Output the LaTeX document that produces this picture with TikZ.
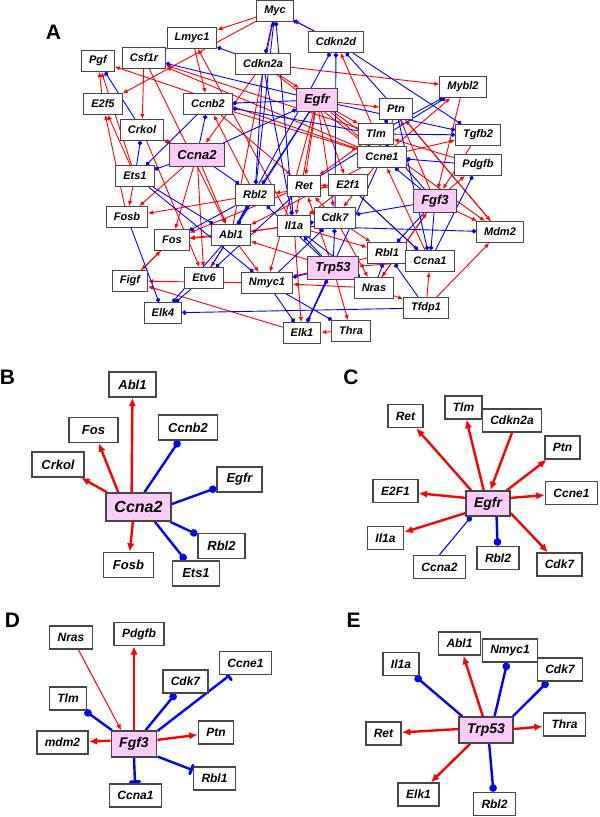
\documentclass[tikz,border=0pt]{standalone}
\usepackage{fontspec}
\setmainfont{Liberation Sans}
\usetikzlibrary{arrows.meta, backgrounds}
\definecolor{actred}{RGB}{255,0,0}
\definecolor{inhblue}{RGB}{0,0,255}
\definecolor{hubpink}{RGB}{250,204,247}
\definecolor{boxgray}{RGB}{70,70,70}

\begin{document}
\begin{tikzpicture}[x=1pt, y=-1pt,
    gene/.style={draw=boxgray, fill=white, inner ysep=0pt},
    gA/.style={gene, line width=1pt, inner xsep=7.5pt, minimum height=21pt, font=\fontsize{11}{13}\selectfont\bfseries\itshape},
    hA/.style={gA, fill=hubpink, minimum height=23pt, font=\fontsize{13}{15}\selectfont\bfseries\itshape},
    gB/.style={gene, line width=1.4pt, inner xsep=9.5pt, minimum height=25pt, font=\fontsize{13}{15}\selectfont\bfseries\itshape},
    hB/.style={gB, fill=hubpink, inner xsep=8.5pt, minimum height=28pt, font=\fontsize{16}{18}\selectfont\bfseries\itshape},
    gC/.style={gene, line width=1.4pt, inner xsep=8pt, minimum height=23pt, font=\fontsize{12}{14}\selectfont\bfseries\itshape},
    hC/.style={gC, fill=hubpink, minimum height=26pt, font=\fontsize{14}{16}\selectfont\bfseries\itshape},
    panel/.style={inner sep=0pt, font=\fontsize{21}{24}\selectfont\bfseries},
    actA/.style={draw=actred, line width=0.9pt, -{Latex[length=5pt,width=4.5pt]}},
    inhA/.style={draw=inhblue, line width=0.9pt, -{Circle[length=4.4pt]}},
    act/.style={draw=actred, line width=2.4pt, -{Latex[length=8.5pt,width=7.5pt]}},
    actthin/.style={draw=actred, line width=1pt, -{Latex[length=6pt,width=5pt]}},
    inh/.style={draw=inhblue, line width=2.4pt, -{Circle[length=7.5pt]}},
    inhthin/.style={draw=inhblue, line width=1.1pt, -{Circle[length=5.5pt]}},
    inhbar/.style={draw=inhblue, line width=2.4pt, -{Bar[width=9pt,line width=3pt,round]}},
  ]
  \useasboundingbox (0, 0) rectangle (600, 817);

  % panel letters
  \node (lblA)at(53.5, 32.5)[panel]{A};
  \node (lblB)at(7.5, 377.5)[panel]{B};
  \node (lblC)at(351, 377.5)[panel]{C};
  \node (lblD)at(12.5, 620.5)[panel]{D};
  \node (lblE)at(353.5, 620.5)[panel]{E};

  % A: whole network
  \node (Myc)at(275, 11)[gA]{Myc};
  \node (Lmyc1)at(192, 38)[gA]{Lmyc1};
  \node (Pgf)at(98, 61)[gA]{Pgf};
  \node (Csf1r)at(144, 58)[gA]{Csf1r};
  \node (Cdkn2a)at(263, 64)[gA]{Cdkn2a};
  \node (Cdkn2d)at(336, 42)[gA]{Cdkn2d};
  \node (E2f5)at(103, 104)[gA]{E2f5};
  \node (Ccnb2)at(208, 104)[gA]{Ccnb2};
  \node (Egfr)at(317, 100)[hA]{Egfr};
  \node (Mybl2)at(463, 87)[gA]{Mybl2};
  \node (Ptn)at(396, 109)[gA]{Ptn};
  \node (Crkol)at(142, 130)[gA]{Crkol};
  \node (Tlm)at(376, 134)[gA]{Tlm};
  \node (Tgfb2)at(478, 135)[gA]{Tgfb2};
  \node (Ccna2)at(197, 155)[hA]{Ccna2};
  \node (Ccne1)at(382, 157)[gA]{Ccne1};
  \node (Pdgfb)at(478, 165)[gA]{Pdgfb};
  \node (Ets1)at(135, 176)[gA]{Ets1};
  \node (Ret)at(304, 186)[gA]{Ret};
  \node (E2f1)at(348, 185)[gA]{E2f1};
  \node (Rbl2)at(255, 195)[gA]{Rbl2};
  \node (Fgf3)at(435, 201)[hA]{Fgf3};
  \node (Fosb)at(127, 217)[gA]{Fosb};
  \node (Cdk7)at(335, 218)[gA]{Cdk7};
  \node (Il1a)at(294, 226)[gA]{Il1a};
  \node (Mdm2)at(500, 232)[gA]{Mdm2};
  \node (Abl1)at(231, 235)[gA]{Abl1};
  \node (Fos)at(172, 240)[gA]{Fos};
  \node (Rbl1)at(387, 253)[gA]{Rbl1};
  \node (Ccna1)at(430, 261)[gA]{Ccna1};
  \node (Trp53)at(333, 268)[hA]{Trp53};
  \node (Etv6)at(204, 278)[gA]{Etv6};
  \node (Figf)at(130, 281)[gA]{Figf};
  \node (Nmyc1)at(267, 283)[gA]{Nmyc1};
  \node (Nras)at(374, 288)[gA]{Nras};
  \node (Tfdp1)at(426, 308)[gA]{Tfdp1};
  \node (Elk4)at(163, 313)[gA]{Elk4};
  \node (Thra)at(351, 331)[gA]{Thra};
  \node (Elk1)at(302, 333)[gA]{Elk1};

  % B: Ccna2
  \node (bCcna2)at(138.5, 507)[hB]{Ccna2};
  \node (bAbl1)at(132.5, 384.5)[gB]{Abl1};
  \node (bFos)at(93.5, 430)[gB, minimum width=49pt]{Fos};
  \node (bCcnb2)at(188, 427.5)[gB]{Ccnb2};
  \node (bCrkol)at(58, 464.5)[gB]{Crkol};
  \node (bEgfr)at(239.5, 479.5)[gB]{Egfr};
  \node (bRbl2)at(221.5, 546)[gB]{Rbl2};
  \node (bFosb)at(128.5, 565)[gB]{Fosb};
  \node (bEts1)at(196, 573.5)[gB]{Ets1};

  % C: Egfr
  \node (cEgfr)at(488, 503.5)[hC, minimum height=25pt]{Egfr};
  \node (cRet)at(405.5, 416)[gC]{Ret};
  \node (cTlm)at(463.5, 407.5)[gC]{Tlm};
  \node (cCdkn2a)at(512, 420.5)[gC]{Cdkn2a};
  \node (cPtn)at(562.5, 447.5)[gC]{Ptn};
  \node (cE2F1)at(395.5, 491)[gC]{E2F1};
  \node (cCcne1)at(571.5, 493)[gC]{Ccne1};
  \node (cIl1a)at(385.5, 538)[gC]{Il1a};
  \node (cCcna2)at(439.5, 567)[gC]{Ccna2};
  \node (cRbl2)at(498, 558)[gC]{Rbl2};
  \node (cCdk7)at(559.5, 564.5)[gC]{Cdk7};

  % D: Fgf3
  \node (dFgf3)at(134, 744)[hC]{Fgf3};
  \node (dNras)at(71, 637.5)[gC]{Nras};
  \node (dPdgfb)at(139, 634)[gC]{Pdgfb};
  \node (dCcne1)at(245.5, 663)[gC]{Ccne1};
  \node (dCdk7)at(185.5, 681.5)[gC]{Cdk7};
  \node (dTlm)at(68, 698.5)[gC]{Tlm};
  \node (dPtn)at(216, 732.5)[gC]{Ptn};
  \node (dmdm2)at(62.5, 742.5)[gC]{mdm2};
  \node (dRbl1)at(214.5, 778.5)[gC]{Rbl1};
  \node (dCcna1)at(135.5, 795.5)[gC]{Ccna1};

  % E: Trp53
  \node (eTrp53)at(486, 730)[hC]{Trp53};
  \node (eIl1a)at(401, 664)[gC]{Il1a};
  \node (eAbl1)at(459.5, 643.5)[gC]{Abl1};
  \node (eNmyc1)at(510, 650.5)[gC]{Nmyc1};
  \node (eCdk7)at(560, 669.5)[gC]{Cdk7};
  \node (eThra)at(564.5, 724.5)[gC]{Thra};
  \node (eRet)at(383.5, 733.5)[gC]{Ret};
  \node (eElk1)at(418.5, 794.5)[gC]{Elk1};
  \node (eRbl2)at(494.5, 804)[gC]{Rbl2};

  \begin{scope}[on background layer]
    \fill [white](0, 0) rectangle (600, 817);

    % A: activation (red) and inhibition (blue)
    \foreach \src/\dst in {Myc/Lmyc1, Myc/E2f5, Csf1r/Crkol, E2f5/Pgf, Ets1/Pgf, Fosb/E2f5, Ets1/E2f5,
        Ets1/Fosb, Ccne1/Pgf, Tlm/Csf1r, Ccne1/Csf1r, Rbl2/Ccnb2, Ccnb2/Ret, Cdkn2a/Mybl2, Tlm/Cdkn2d,
        Cdkn2d/Myc, Mdm2/Ptn, Ccne1/Tgfb2, Ccna2/Abl1, Ccna2/Fos, Ccna2/Crkol, Ccna2/Fosb, Egfr/Ret,
        Egfr/Tlm, Egfr/Ptn, Egfr/E2f1, Egfr/Ccne1, Egfr/Il1a, Egfr/Cdk7, Cdkn2a/Egfr, Nras/Fgf3,
        Fgf3/Pdgfb, Fgf3/Ptn, Fgf3/Mdm2, Trp53/Abl1, Trp53/Thra, Trp53/Ret, Trp53/Elk1, Thra/Elk1,
        Tfdp1/Ccna1, Tfdp1/Mdm2, Nras/Tfdp1, Elk1/Figf, Nmyc1/Figf, Fos/Figf, Figf/Fos, Abl1/Fos,
        Il1a/Fos, Abl1/Nmyc1, Nras/Nmyc1, Rbl2/Fosb, Ccne1/Abl1, E2f1/Il1a, Ret/E2f1, Cdk7/Ret,
        Tlm/Ret, Ccne1/Cdk7, Ccna1/Ccne1, Ccne1/Mybl2, Cdk7/Rbl1, Il1a/Rbl1, E2f1/Ccna1, Egfr/Mdm2,
        Ptn/Mdm2, Cdk7/Nras, Abl1/Etv6, Il1a/Lmyc1, Abl1/Myc, Crkol/Ccna2, Csf1r/Abl1, Pdgfb/Tlm,
        Rbl1/Nmyc1, Ccna1/Trp53, Il1a/Elk1, Cdk7/Abl1, Ret/Fos, E2f1/Rbl2, Ccnb2/Ccne1, Cdkn2a/Ccne1,
        Ptn/Ccne1, Mybl2/Fgf3, Ccna2/Etv6, Egfr/Nmyc1, Crkol/Etv6, Fgf3/Nras, Tgfb2/Fgf3,
        Cdkn2a/Ccna2, Lmyc1/Ccnb2}
      \draw [actA](\src)--(\dst);
    \foreach \src/\dst in {Ccna2/Ccnb2, Ccna2/Egfr, Ccna2/Rbl2, Ccna2/Ets1, Egfr/Rbl2, Fgf3/Tlm,
        Fgf3/Cdk7, Fgf3/Ccne1, Fgf3/Rbl1, Fgf3/Ccna1, Trp53/Il1a, Trp53/Nmyc1, Trp53/Cdk7, Trp53/Rbl2,
        Csf1r/Lmyc1, Cdkn2a/Lmyc1, Egfr/Csf1r, Crkol/Pgf, Ets1/Crkol, Egfr/Ccnb2, Tlm/Ccnb2, Rbl2/Myc,
        Il1a/Myc, Cdkn2d/Myc, Abl1/Cdkn2d, Cdk7/Cdkn2d, Ptn/Cdkn2d, Cdkn2d/Tgfb2, Egfr/Tgfb2,
        Tlm/Mybl2, Ret/Mybl2, Ccna1/Pdgfb, Ptn/Tlm, Nmyc1/Elk1, Nmyc1/Thra, Tfdp1/Elk4, Etv6/Elk4,
        Fosb/Elk4, Abl1/Elk4, Elk1/Trp53, Nras/Rbl1, Tfdp1/Rbl1, Il1a/Nras, Il1a/Mdm2, E2f1/Ccna1,
        Ptn/Ccna1, Rbl2/Fos, Ets1/Nmyc1, Ets1/Abl1, Cdkn2a/Rbl2, Cdkn2a/Il1a, Nmyc1/Cdk7, Tlm/Tgfb2,
        Ret/Etv6, Il1a/Cdk7, Etv6/Rbl2, Egfr/Abl1, Ccne1/Elk1, Pdgfb/Ccne1, Ccnb2/Ets1, Myc/Cdkn2a}
      \draw [inhA](\src)--(\dst);

    % B
    \draw [act](bCcna2.115)--(bAbl1);
    \draw [act](bCcna2.144)--(bFos);
    \draw [act](bCcna2.155)--(bCrkol);
    \draw [inh](bCcna2.68)--(bCcnb2);
    \draw [inh](bCcna2.5)--(bEgfr);
    \draw [inh](bCcna2.-25)--(bRbl2);
    \draw [inh](bCcna2.-42)--(bEts1);
    \draw [act](bCcna2.-111)--(bFosb);

    % C
    \draw [act](cEgfr.142)--(cRet);
    \draw [act](cEgfr.108)--(cTlm);
    \draw [act](cCdkn2a.south)--(cEgfr.80);
    \draw [act](cEgfr.35)--(cPtn);
    \draw [act](cEgfr.166)--(cE2F1);
    \draw [act](cEgfr.14)--(cCcne1);
    \draw [act](cEgfr.203)--(cIl1a);
    \draw [inhthin](cCcna2.north)--(cEgfr.-142);
    \draw [inh](cEgfr.-57)--(cRbl2);
    \draw [act](cEgfr.-23)--(cCdk7);

    % D
    \draw [actthin](dNras.-59)--(dFgf3.133);
    \draw [act](dFgf3.north)--(dFgf3.north |- dPdgfb.south);
    \draw [inh](dFgf3.50)--(dCdk7);
    \draw [inhbar](dFgf3.29)--(dCcne1);
    \draw [inh](dFgf3.148)--(dTlm);
    \draw [act](dFgf3.10)--(dPtn);
    \draw [act](dFgf3.172)--(dmdm2);
    \draw [inhbar](dFgf3.-28)--(dRbl1);
    \draw [inhbar](dFgf3.south)--(dCcna1);

    % E
    \draw [inh](eTrp53.150)--(eIl1a);
    \draw [act](eTrp53.103)--(eAbl1);
    \draw [inh](eTrp53.58)--(eNmyc1);
    \draw [inh](eTrp53.27)--(eCdk7);
    \draw [act](eTrp53.2)--(eThra);
    \draw [act](eTrp53.178)--(eRet);
    \draw [act](eTrp53.221)--(eElk1);
    \draw [inh](eTrp53.-77)--(eRbl2);
  \end{scope}
\end{tikzpicture}
\end{document}
